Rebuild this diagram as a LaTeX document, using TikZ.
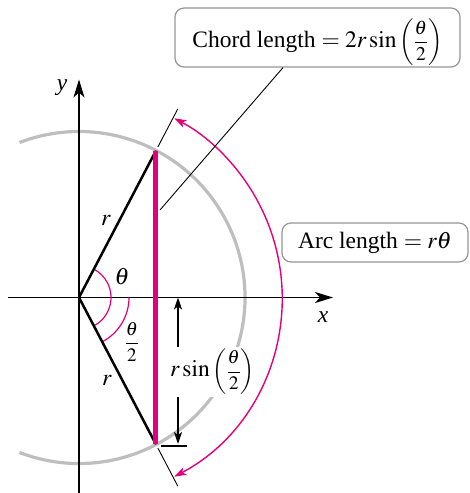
\documentclass[tikz,border=0pt]{standalone}
\usepackage{mathptmx}
\usepackage[no-math]{fontspec}
\setmainfont{Liberation Serif}
\usetikzlibrary{arrows.meta}
\definecolor{pinkc}{RGB}{228,0,124}
\definecolor{grayc}{RGB}{190,190,190}
\definecolor{boxc}{RGB}{150,150,150}
\newcommand{\halfth}[1]{\mbox{\fontsize{#1}{#1}\selectfont$\left(\displaystyle\frac{\theta}{2}\right)$}}
\newcommand{\halffrac}{\mbox{\fontsize{19}{19}\selectfont$\displaystyle\frac{\theta}{2}$}}
\tikzset{
  axis/.style={line width=1.8pt, -{Stealth[length=18pt,width=11pt,inset=5pt]}},
  ray/.style={line width=2.5pt, line cap=round},
  tickline/.style={line width=0.9pt},
  anglearc/.style={pinkc, line width=1.2pt},
  callout/.style={draw=boxc, line width=1.2pt, rounded corners=9pt, fill=white, inner sep=0pt},
  lbl/.style={inner sep=0pt},
  dimarrow/.style={line width=1.4pt, {Stealth[length=12pt,width=8pt,inset=3pt]}-{Stealth[length=12pt,width=8pt,inset=3pt]}},
}
\begin{document}
\begin{tikzpicture}[x=1pt,y=1pt,font=\fontsize{23.5}{28}\selectfont]
\useasboundingbox (-79,297.5) rectangle (391,-195.5);
% points
\coordinate (O) at (0,0);
\coordinate (P1) at (62.35:165);
\coordinate (P2) at (-62.35:165);
% gray circle
\draw[grayc, line width=3.2pt] (-111:166) arc[start angle=-111, end angle=111, radius=166];
% axes
\coordinate (xs) at (-71,0);
\coordinate (xe) at (254,0);
\coordinate (ys) at (0,-195.5);
\coordinate (ye) at (0,218);
\draw[axis] (xs) -- (xe);
\draw[axis] (ys) -- (ye);
\node[lbl] (xl) at (244,-19.5) {\itshape x};
\node[lbl] (yl) at (-17,209.5) {\itshape y};
% dimension arrow
\coordinate (d1) at (99,0);
\coordinate (d2) at (99,-146.5);
\coordinate (t1) at (82,-148.5);
\coordinate (t2) at (108,-148.5);
\draw[dimarrow] (d1) -- (d2);
\draw[line width=1.4pt] (t1) -- (t2);
\node[lbl, fill=white, inner xsep=1pt, inner ysep=2pt, anchor=west] (rs) at (90,-74.5) {$r\sin\halfth{19}$};
% angle arcs
\draw[anglearc] (-62.35:32) arc[start angle=-62.35, end angle=62.35, radius=32];
\draw[anglearc] (-62.35:50) arc[start angle=-62.35, end angle=0, radius=50];
\node[lbl] (th) at (43,20.5) {$\theta$};
\node[lbl] (th2) at (53,-44.5) {$\halffrac$};
% rays
\draw[ray] (O) -- (P1);
\draw[ray] (O) -- (P2);
\node[lbl] (r1) at (27,77.5) {$r$};
\node[lbl] (r2) at (28,-82.5) {$r$};
% extension ticks
\draw[tickline] (62.35:170) -- (62.35:213);
\draw[tickline] (-62.35:170) -- (-62.35:213);
% chord
\draw[pinkc, line width=4.5pt] (P1) -- (P2);
% arc length arrow
\draw[pinkc, line width=1.4pt, {Stealth[length=12pt,width=8pt,inset=3pt]}-{Stealth[length=12pt,width=8pt,inset=3pt]}] (-62:203) arc[start angle=-62, end angle=62, radius=203];
% callouts
\node[callout, minimum width=285pt, minimum height=59pt, text height=35pt, text depth=15pt] (chordbox) at (238.5,260) {Chord length $= 2r\sin\halfth{19.5}$};
\node[callout, minimum width=186pt, minimum height=39pt] (arcbox) at (296,55) {Arc length $= r\theta$};
\coordinate (lead) at (81,87.5);
\draw[line width=0.9pt] ([xshift=-34.5pt]chordbox.south) -- (lead);
\end{tikzpicture}
\end{document}
